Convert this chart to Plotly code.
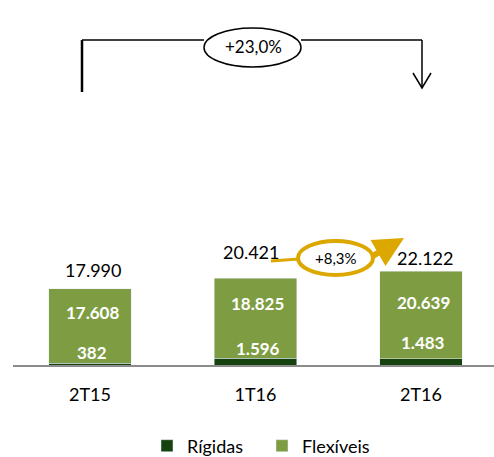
import plotly.graph_objects as go

categories = ["2T15", "1T16", "2T16"]
rigidas = [382, 1596, 1483]
flexiveis = [17608, 18825, 20639]
totals = [r + f for r, f in zip(rigidas, flexiveis)]
growth_total = "+23,0%"
growth_q = "+8,3%"

W, H = 494, 457
FONT = "Lato, 'Open Sans', sans-serif"
C_FLEX = "#7E9D42"
C_RIG = "#15420F"
GOLD = "#DCA800"

def fmt(v):
    return f"{v:,}".replace(",", ".")

def px(x):
    return x / W

def py(y):
    return 1 - y / H

xs = list(range(len(categories)))

fig = go.Figure()
fig.add_trace(go.Bar(x=xs, y=rigidas, name="Rígidas", marker_color=C_RIG, width=0.5))
fig.add_trace(go.Bar(x=xs, y=flexiveis, name="Flexíveis", marker_color=C_FLEX, width=0.5))

ann = []
tot_shift = [19, 26, 13]
tot_dx = [3, -5, 4]
for i, t in enumerate(totals):
    ann.append(dict(x=xs[i], y=t, text=fmt(t), showarrow=False, yshift=tot_shift[i], xshift=tot_dx[i],
                    font=dict(size=18, color="black", family=FONT), xref="x", yref="y"))
flex_shift = [-24, -25, -31]
rig_shift = [13, 17, 23]
for i in range(len(categories)):
    ann.append(dict(x=xs[i], y=totals[i], text=f"<b>{fmt(flexiveis[i])}</b>", showarrow=False,
                    yshift=flex_shift[i], xshift=2,
                    font=dict(size=17, color="white", family=FONT), xref="x", yref="y"))
    ann.append(dict(x=xs[i], y=0, text=f"<b>{fmt(rigidas[i])}</b>", showarrow=False,
                    yshift=rig_shift[i], xshift=2,
                    font=dict(size=17, color="white", family=FONT), xref="x", yref="y"))

# top bracket ellipse text
ann.append(dict(x=px(253), y=py(46), xref="paper", yref="paper", text=growth_total, showarrow=False,
                xanchor="center", yanchor="middle",
                font=dict(size=17, color="black", family=FONT)))
# gold ellipse text
ann.append(dict(x=px(336), y=py(258), xref="paper", yref="paper", text=growth_q, showarrow=False,
                xanchor="center", yanchor="middle",
                font=dict(size=15, color="black", family=FONT)))
# gold arrow
ann.append(dict(x=px(404), y=py(238), xref="paper", yref="paper", ax=-33, ay=19,
                text="", showarrow=True, arrowcolor=GOLD, arrowwidth=6, arrowhead=2, arrowsize=1,
                standoff=0))

shapes = [
    # top bracket
    dict(type="line", xref="paper", yref="paper", x0=px(82), y0=py(40), x1=px(82), y1=py(92),
         line=dict(color="black", width=2.5)),
    dict(type="line", xref="paper", yref="paper", x0=px(82), y0=py(40), x1=px(204), y1=py(40),
         line=dict(color="black", width=1.5)),
    dict(type="line", xref="paper", yref="paper", x0=px(301), y0=py(40), x1=px(422), y1=py(40),
         line=dict(color="black", width=1.5)),
    dict(type="line", xref="paper", yref="paper", x0=px(422), y0=py(40), x1=px(422), y1=py(88),
         line=dict(color="black", width=1.5)),
    dict(type="path", xref="paper", yref="paper",
         path=f"M {px(413)} {py(73)} L {px(422)} {py(88)} L {px(431)} {py(73)}",
         line=dict(color="black", width=1.5)),
    dict(type="circle", xref="paper", yref="paper", x0=px(204), y0=py(28), x1=px(301), y1=py(67),
         line=dict(color="black", width=1.5), fillcolor="white"),
    # gold ellipse and underline
    dict(type="line", xref="paper", yref="paper", x0=px(271), y0=py(261), x1=px(299), y1=py(259),
         line=dict(color=GOLD, width=3)),
    dict(type="circle", xref="paper", yref="paper", x0=px(298), y0=py(241), x1=px(373), y1=py(275),
         line=dict(color=GOLD, width=4), fillcolor="rgba(0,0,0,0)"),
]

fig.update_layout(
    width=W, height=H,
    barmode="stack",
    margin=dict(l=0, r=0, t=0, b=0, pad=0, autoexpand=False),
    paper_bgcolor="white", plot_bgcolor="white",
    font=dict(family=FONT, size=18, color="black"),
    annotations=ann,
    shapes=shapes,
    legend=dict(orientation="h", x=px(147), xanchor="left", y=py(446), yanchor="middle",
                font=dict(size=18, family=FONT), itemwidth=30, traceorder="normal",
                entrywidth=70, entrywidthmode="pixels"),
    showlegend=True,
)
x0c, x2c = 90, 421
s = (x2c - x0c) / 2
fig.update_xaxes(domain=[px(13), 1], range=[(13 - x0c) / s, (494 - x0c) / s], tickvals=xs, ticktext=categories,
                 showgrid=False, zeroline=False, showline=True, linecolor="#8C8C8C", linewidth=2,
                 ticks="", ticklabelstandoff=12, tickfont=dict(size=18, family=FONT, color="black"),
                 automargin=False)
fig.update_yaxes(domain=[py(365), 1], range=[0, 365 / (94 / 22122)], visible=False, showgrid=False,
                 zeroline=False, automargin=False)

fig.write_html("out.html", config={"displayModeBar": False},
               post_script="document.body.style.margin='0';document.body.style.overflow='hidden';")
